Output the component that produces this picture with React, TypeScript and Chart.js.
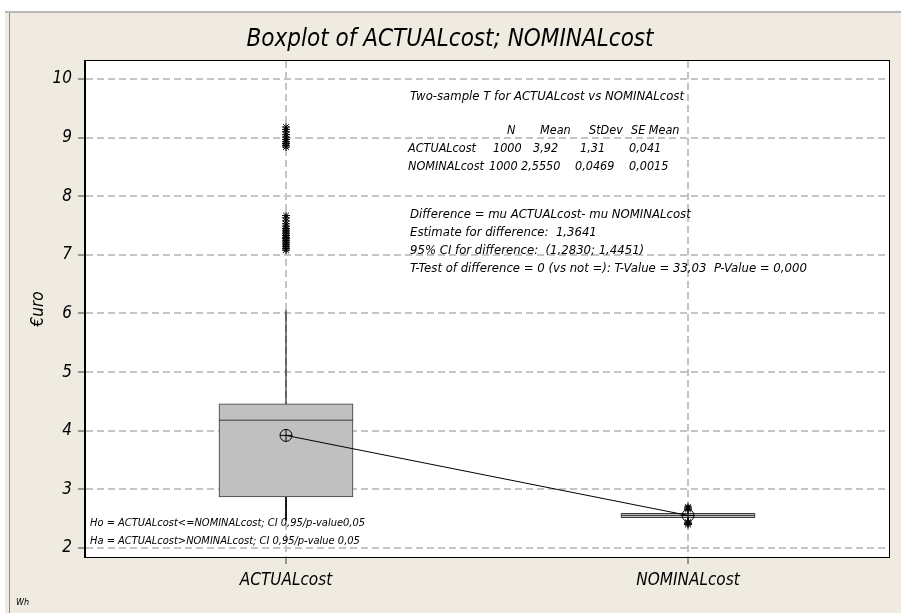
import React, { useEffect, useRef } from "react";
import { Chart, registerables } from "chart.js";

Chart.register(...registerables);

// ---------- data ----------
const categories = ["ACTUALcost", "NOMINALcost"];
const categoryPositions = [1, 2];
const q1Values = [2.87, 2.515];
const medianValues = [4.18, 2.555];
const q3Values = [4.457, 2.59];
const whiskerLowValues = [2.47, 2.47];
const whiskerHighValues = [6.06, 2.64];
const meanValues = [3.92, 2.555];
const outliersActual = [
  7.08, 7.11, 7.14, 7.17, 7.2, 7.22, 7.25, 7.28, 7.3, 7.33, 7.36, 7.39, 7.42,
  7.45, 7.49, 7.53, 7.58, 7.63, 7.67, 8.84, 8.87, 8.9, 8.93, 8.97, 9.01, 9.05,
  9.1, 9.14, 9.18,
];
const outliersNominal = [2.66, 2.68, 2.7, 2.4, 2.42, 2.44];
const yTicks = [2, 3, 4, 5, 6, 7, 8, 9, 10];

const titleText = "Boxplot of ACTUALcost; NOMINALcost";
const yAxisTitle = "€uro";
const statsTitle = "Two-sample T for ACTUALcost vs NOMINALcost";
const statsHeader = ["N", "Mean", "StDev", "SE Mean"];
const statsRowActual = ["ACTUALcost", "1000", "3,92", "1,31", "0,041"];
const statsRowNominal = ["NOMINALcost", "1000", "2,5550", "0,0469", "0,0015"];
const diffLines = [
  "Difference = mu ACTUALcost- mu NOMINALcost",
  "Estimate for difference:  1,3641",
  "95% CI for difference:  (1,2830; 1,4451)",
  "T-Test of difference = 0 (vs not =): T-Value = 33,03  P-Value = 0,000",
];
const hypothesisLines = [
  "Ho = ACTUALcost<=NOMINALcost; CI 0,95/p-value0,05",
  "Ha = ACTUALcost>NOMINALcost; CI 0,95/p-value 0,05",
];
const footerText = "Wh";

const FONT = "'DejaVu Sans Condensed', 'Liberation Sans Narrow', 'Open Sans', sans-serif";

export default function App() {
  const canvasRef = useRef<HTMLCanvasElement | null>(null);

  useEffect(() => {
    const canvas = canvasRef.current;
    if (!canvas) return;
    const half = 0.167;

    const segments = (pairs: { x: number; y: number }[][], color: string, width: number) =>
      pairs.map((pts) => ({
        type: "scatter" as const,
        data: pts,
        showLine: true,
        borderColor: color,
        borderWidth: width,
        pointRadius: 0,
        pointHoverRadius: 0,
        fill: false,
      }));

    const meanPts = meanValues.map((m, i) => ({ x: categoryPositions[i], y: m }));

    const datasets: any[] = [
      {
        type: "scatter",
        data: meanPts,
        showLine: true,
        borderColor: "#000",
        borderWidth: 1,
        pointRadius: 0,
      },
      {
        type: "scatter",
        data: meanPts,
        pointStyle: "circle",
        pointRadius: 6,
        pointBorderColor: "#000",
        pointBackgroundColor: "rgba(0,0,0,0)",
        pointBorderWidth: 1,
      },
      {
        type: "scatter",
        data: meanPts,
        pointStyle: "cross",
        pointRadius: 6,
        pointBorderColor: "#000",
        pointBorderWidth: 1,
      },
      {
        type: "scatter",
        data: [
          ...outliersActual.map((v) => ({ x: categoryPositions[0], y: v })),
          ...outliersNominal.map((v) => ({ x: categoryPositions[1], y: v })),
        ],
        pointStyle: "star",
        pointRadius: 4,
        pointBorderColor: "#000",
        pointBorderWidth: 1,
      },
      ...segments(
        medianValues.map((m, i) => [
          { x: categoryPositions[i] - half, y: m },
          { x: categoryPositions[i] + half, y: m },
        ]),
        "#3a3a3a",
        1
      ),
      {
        type: "bar",
        data: categoryPositions.map((p, i) => ({ x: p, y: [q1Values[i], q3Values[i]] })),
        backgroundColor: "#C0C0C0",
        borderColor: "#3a3a3a",
        borderWidth: 1,
        borderSkipped: false,
        barThickness: 134,
        grouped: false,
      },
      ...segments(
        categoryPositions.flatMap((p, i) => [
          [
            { x: p, y: q3Values[i] },
            { x: p, y: whiskerHighValues[i] },
          ],
          [
            { x: p, y: q1Values[i] },
            { x: p, y: whiskerLowValues[i] },
          ],
        ]),
        "#000",
        1
      ),
    ];

    const framePlugin = {
      id: "frame",
      beforeDraw(chart: any) {
        const { ctx, chartArea } = chart;
        ctx.save();
        ctx.fillStyle = "#ffffff";
        ctx.fillRect(0, 0, chart.width, chart.height);
        ctx.fillStyle = "#EFEBE1";
        ctx.fillRect(5, 12, chart.width - 5, chart.height - 12);
        ctx.strokeStyle = "#b8b8b8";
        ctx.lineWidth = 2;
        ctx.beginPath();
        ctx.moveTo(5, 12);
        ctx.lineTo(chart.width, 12);
        ctx.stroke();
        ctx.strokeStyle = "#8c8c8c";
        ctx.lineWidth = 1;
        ctx.beginPath();
        ctx.moveTo(9.5, 13);
        ctx.lineTo(9.5, chart.height);
        ctx.stroke();
        ctx.fillStyle = "#ffffff";
        ctx.fillRect(
          chartArea.left,
          chartArea.top,
          chartArea.right - chartArea.left,
          chartArea.bottom - chartArea.top
        );
        ctx.restore();
      },
      afterDraw(chart: any) {
        const { ctx, chartArea } = chart;
        ctx.save();
        ctx.strokeStyle = "#000";
        ctx.lineWidth = 1;
        ctx.strokeRect(
          Math.round(chartArea.left) - 0.5,
          Math.round(chartArea.top) - 0.5,
          Math.round(chartArea.right - chartArea.left) + 1,
          Math.round(chartArea.bottom - chartArea.top) + 1
        );
        ctx.fillStyle = "#000";
        ctx.textBaseline = "middle";
        ctx.textAlign = "center";
        ctx.font = `italic 24px ${FONT}`;
        ctx.fillText(titleText, 450, 40);
        ctx.textAlign = "left";
        ctx.font = `italic 13px ${FONT}`;
        ctx.fillText(statsTitle, 410, 97);
        ctx.font = `italic 12.5px ${FONT}`;
        const headerX = [507, 540, 589, 631];
        statsHeader.forEach((t, i) => ctx.fillText(t, headerX[i], 131));
        const rowAX = [408, 493, 533, 580, 629];
        statsRowActual.forEach((t, i) => ctx.fillText(t, rowAX[i], 149));
        const rowNX = [408, 489, 521, 575, 629];
        statsRowNominal.forEach((t, i) => ctx.fillText(t, rowNX[i], 167));
        ctx.font = `italic 13px ${FONT}`;
        const diffY = [215, 233, 251, 269];
        diffLines.forEach((t, i) => ctx.fillText(t, 410, diffY[i]));
        ctx.font = `italic 11px ${FONT}`;
        const hypY = [523, 541];
        hypothesisLines.forEach((t, i) => ctx.fillText(t, 90, hypY[i]));
        ctx.font = `italic 9px ${FONT}`;
        ctx.fillText(footerText, 16, 603);
        ctx.restore();
      },
    };

    const chart = new Chart(canvas, {
      type: "scatter",
      data: { datasets },
      options: {
        animation: false,
        responsive: false,
        devicePixelRatio: 1,
        layout: { padding: { left: 0, top: 61, right: 12, bottom: 0 } },
        plugins: {
          legend: { display: false },
          tooltip: { enabled: false },
          title: { display: false },
        },
        scales: {
          x: {
            type: "linear",
            min: 0.5,
            max: 2.5,
            offset: false,
            afterFit: (scale: any) => {
              scale.height = 56;
            },
            afterBuildTicks: (scale: any) => {
              scale.ticks = categoryPositions.map((v) => ({ value: v }));
            },
            ticks: {
              padding: 6,
              color: "#000",
              font: { family: FONT, size: 17, style: "italic" },
              callback: (value: any) => {
                const idx = categoryPositions.indexOf(Number(value));
                return idx >= 0 ? categories[idx] : "";
              },
            },
            grid: {
              offset: false,
              color: "#c4c4c4",
              lineWidth: 2,
              tickLength: 7,
              tickColor: "#404040",
              tickWidth: 1,
              tickBorderDash: [],
            },
            border: { display: true, color: "#000", width: 1, dash: [7, 4] },
          },
          y: {
            type: "linear",
            min: 1.846,
            max: 10.307,
            afterFit: (scale: any) => {
              scale.width = 85;
            },
            afterBuildTicks: (scale: any) => {
              scale.ticks = yTicks.map((v) => ({ value: v }));
            },
            ticks: {
              padding: 6,
              color: "#000",
              font: { family: FONT, size: 17, style: "italic" },
            },
            title: {
              display: true,
              text: yAxisTitle,
              color: "#000",
              font: { family: FONT, size: 17, style: "italic" },
              padding: { top: 28, bottom: 0 },
            },
            grid: {
              color: "#c4c4c4",
              lineWidth: 2,
              tickLength: 7,
              tickColor: "#404040",
              tickWidth: 1,
              tickBorderDash: [],
            },
            border: { display: true, color: "#000", width: 1, dash: [7, 4] },
          },
        },
      } as any,
      plugins: [framePlugin],
    });

    return () => chart.destroy();
  }, []);

  return (
    <div style={{ position: "absolute", left: 0, top: 0, width: 901, height: 613 }}>
      <canvas ref={canvasRef} width={901} height={613} style={{ display: "block" }} />
    </div>
  );
}
